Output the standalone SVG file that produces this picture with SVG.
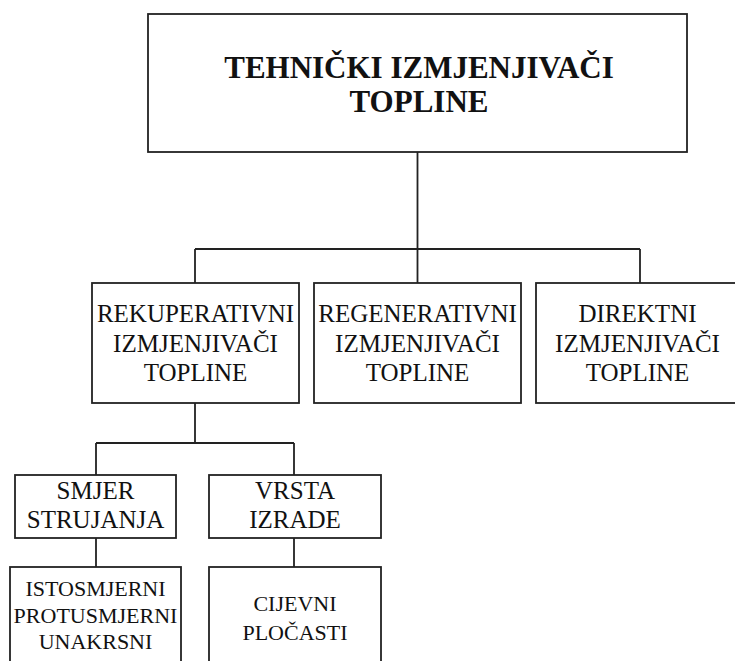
<svg xmlns="http://www.w3.org/2000/svg" width="735" height="661" viewBox="0 0 735 661">
<style>
.box{fill:#fff;stroke:#222;stroke-width:1.8}
.ln{fill:none;stroke:#222;stroke-width:1.8}
text{font-family:"Liberation Serif","Times New Roman",serif;fill:#111;text-anchor:middle}
.t0{font-size:31px;font-weight:bold}
.t1{font-size:25px}
.t2{font-size:22px}
</style>
<rect width="735" height="661" fill="#fff"/>
<g id="connectors">
<path class="ln" d="M417.5 152V249M195 249H640M195 249V283M417.5 249V283M640 249V283"/>
<path class="ln" d="M195 403V443M96 443H294M96 443V475M294 443V475"/>
<path class="ln" d="M96 538V567M294 538V567"/>
</g>
<g id="n-root">
<rect class="box" x="148" y="14" width="539" height="138"/>
<text class="t0" x="419" y="78">TEHNIČKI IZMJENJIVAČI</text>
<text class="t0" x="419" y="112">TOPLINE</text>
</g>
<g id="n-rekup">
<rect class="box" x="92" y="283" width="207" height="120"/>
<text class="t1" x="195.5" y="322">REKUPERATIVNI</text>
<text class="t1" x="195.5" y="352">IZMJENJIVAČI</text>
<text class="t1" x="195.5" y="381">TOPLINE</text>
</g>
<g id="n-regen">
<rect class="box" x="314" y="283" width="207" height="120"/>
<text class="t1" x="417.5" y="322">REGENERATIVNI</text>
<text class="t1" x="417.5" y="352">IZMJENJIVAČI</text>
<text class="t1" x="417.5" y="381">TOPLINE</text>
</g>
<g id="n-direkt">
<rect class="box" x="536" y="283" width="204" height="120"/>
<text class="t1" x="637.5" y="322">DIREKTNI</text>
<text class="t1" x="637.5" y="352">IZMJENJIVAČI</text>
<text class="t1" x="637.5" y="381">TOPLINE</text>
</g>
<g id="n-smjer">
<rect class="box" x="15" y="475" width="161" height="63"/>
<text class="t1" x="95.5" y="499">SMJER</text>
<text class="t1" x="95.5" y="528">STRUJANJA</text>
</g>
<g id="n-vrsta">
<rect class="box" x="209" y="475" width="172" height="63"/>
<text class="t1" x="295" y="499">VRSTA</text>
<text class="t1" x="295" y="528">IZRADE</text>
</g>
<g id="n-isto">
<rect class="box" x="10" y="567" width="171" height="110"/>
<text class="t2" x="95.5" y="596">ISTOSMJERNI</text>
<text class="t2" x="95.5" y="623">PROTUSMJERNI</text>
<text class="t2" x="95.5" y="649">UNAKRSNI</text>
</g>
<g id="n-cijevni">
<rect class="box" x="209" y="567" width="172" height="110"/>
<text class="t2" x="295" y="611">CIJEVNI</text>
<text class="t2" x="295" y="640">PLOČASTI</text>
</g>
</svg>
